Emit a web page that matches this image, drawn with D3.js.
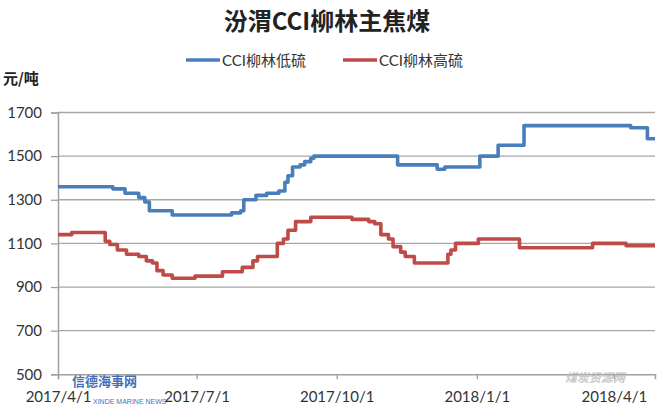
<!DOCTYPE html>
<html>
<head>
<meta charset="utf-8">
<script src="https://cdn.jsdelivr.net/npm/d3@7"></script>
<style>
  html, body { margin: 0; padding: 0; background: #fff; }
  svg { display: block; }
</style>
</head>
<body>
<div id="chart"></div>
<script>
// ---- data ----
const chartTitle = "汾渭CCI柳林主焦煤";
const unitLabel = "元/吨";
const seriesNames = ["CCI柳林低硫", "CCI柳林高硫"];

const lowDates = ["2017-04-01","2017-05-07","2017-05-15","2017-05-24","2017-05-28","2017-05-31","2017-06-15","2017-07-24","2017-07-30","2017-08-01","2017-08-09","2017-08-16","2017-08-24","2017-08-28","2017-08-30","2017-09-02","2017-09-07","2017-09-10","2017-09-14","2017-09-16","2017-11-10","2017-12-06","2017-12-11","2018-01-03","2018-01-15","2018-02-01","2018-04-12","2018-04-23","2018-04-28"];
const lowValues = [1360,1350,1330,1310,1290,1250,1230,1240,1250,1300,1320,1330,1340,1380,1410,1450,1460,1475,1490,1500,1460,1440,1450,1500,1550,1640,1630,1580,1580];

const highDates = ["2017-04-01","2017-04-10","2017-05-02","2017-05-05","2017-05-10","2017-05-16","2017-05-24","2017-05-29","2017-06-02","2017-06-05","2017-06-09","2017-06-15","2017-06-30","2017-07-18","2017-07-31","2017-08-07","2017-08-10","2017-08-23","2017-08-27","2017-08-30","2017-09-04","2017-09-14","2017-10-11","2017-10-22","2017-10-26","2017-10-30","2017-11-04","2017-11-07","2017-11-12","2017-11-15","2017-11-21","2017-12-13","2017-12-15","2017-12-18","2018-01-02","2018-01-29","2018-03-18","2018-04-09","2018-04-28"];
const highValues = [1140,1150,1110,1095,1070,1050,1040,1020,1010,975,955,940,950,970,990,1020,1040,1100,1120,1160,1200,1220,1210,1200,1190,1140,1120,1085,1060,1040,1010,1050,1070,1100,1120,1080,1100,1090,1090];

const yTicks = [500,700,900,1100,1300,1500,1700];
const xTickDates = ["2017-04-01","2017-07-01","2017-10-01","2018-01-01","2018-04-01"];
const xTickLabels = ["2017/4/1","2017/7/1","2017/10/1","2018/1/1","2018/4/1"];
const xDomain = ["2017-04-01","2018-04-28"];

// ---- drawing ----
const W = 670, H = 417;
const colors = ["#4A7EBB", "#BE4B48"];
const parse = d3.utcParse("%Y-%m-%d");
const numFont = "Lato, 'Noto Sans CJK SC', sans-serif";
const cjkFont = "'Noto Sans CJK SC', sans-serif";

const svg = d3.select("#chart").append("svg")
  .attr("width", W).attr("height", H);

const x = d3.scaleUtc().domain(xDomain.map(parse)).range([58, 655]);
const y = d3.scaleLinear().domain([500, 1700]).range([374.3, 112.5]);

// gridlines
svg.append("g").selectAll("line").data(yTicks.filter(v => v !== 500)).join("line")
  .attr("x1", 58).attr("x2", 655)
  .attr("y1", d => y(d)).attr("y2", d => y(d))
  .attr("stroke", "#a6a6a6").attr("stroke-width", 1.3);

// y axis
const yAxis = svg.append("g").attr("transform", "translate(58,0)")
  .call(d3.axisLeft(y).tickValues(yTicks).tickSize(7).tickPadding(9).tickFormat(d3.format("d")));
yAxis.select(".domain").attr("stroke", "#a0a0a0").attr("stroke-width", 1.5);
yAxis.selectAll(".tick line").attr("stroke", "#a0a0a0").attr("stroke-width", 1.3);
yAxis.selectAll("text").attr("font-family", numFont).attr("font-size", 15).attr("fill", "#333");

// x axis
const xAxis = svg.append("g").attr("transform", `translate(0,${y(500)})`)
  .call(d3.axisBottom(x).tickValues(xTickDates.map(parse)).tickSize(5).tickPadding(12)
    .tickFormat((d, i) => xTickLabels[i]));
xAxis.select(".domain").attr("stroke", "#a0a0a0").attr("stroke-width", 1.5);
xAxis.selectAll(".tick line").attr("stroke", "#a0a0a0").attr("stroke-width", 1.3);
xAxis.selectAll("text").attr("font-family", numFont).attr("font-size", 15).attr("fill", "#333");

// lines
const series = [
  { name: seriesNames[0], pts: lowDates.map((d, i) => ({ d: parse(d), v: lowValues[i] })) },
  { name: seriesNames[1], pts: highDates.map((d, i) => ({ d: parse(d), v: highValues[i] })) }
];
const line = d3.line().x(p => x(p.d)).y(p => y(p.v)).curve(d3.curveStepAfter);
svg.append("g").selectAll("path").data(series).join("path")
  .attr("d", s => line(s.pts))
  .attr("fill", "none")
  .attr("stroke", (s, i) => colors[i])
  .attr("stroke-width", 3.6)
  .attr("stroke-linejoin", "round");

// title
svg.append("text").attr("x", 327).attr("y", 30).attr("text-anchor", "middle")
  .attr("font-family", cjkFont).attr("font-weight", "bold").attr("font-size", 24)
  .attr("fill", "#222").text(chartTitle);

// legend
const legendX = [186, 343];
const lg = svg.append("g").selectAll("g").data(seriesNames).join("g")
  .attr("transform", (d, i) => `translate(${legendX[i]},60)`);
lg.append("line").attr("x1", 0).attr("x2", 34).attr("y1", 0).attr("y2", 0)
  .attr("stroke", (d, i) => colors[i]).attr("stroke-width", 3.6);
lg.append("text").attr("x", 36).attr("y", 5.5)
  .attr("font-family", numFont).attr("font-size", 15).attr("fill", "#333").text(d => d);

// unit label
svg.append("text").attr("x", 3).attr("y", 84)
  .attr("font-family", cjkFont).attr("font-weight", "bold").attr("font-size", 15)
  .attr("fill", "#222").text(unitLabel);

// watermarks (kept clear of the tick labels)
svg.append("text").attr("x", 72).attr("y", 386)
  .attr("font-family", cjkFont).attr("font-weight", "bold").attr("font-size", 13)
  .attr("fill", "#2f5fb3").attr("opacity", 0.9).text("信德海事网");
svg.append("text").attr("x", 93).attr("y", 404)
  .attr("font-family", "'Liberation Sans', sans-serif").attr("font-size", 7)
  .attr("fill", "#2f5fb3").attr("opacity", 0.9).text("XINDE MARINE NEWS");
svg.append("text").attr("x", 565).attr("y", 382)
  .attr("font-family", cjkFont).attr("font-weight", "bold").attr("font-style", "italic").attr("font-size", 12)
  .attr("fill", "#bbb").attr("opacity", 0.8).text("煤炭资源网");
</script>
</body>
</html>
